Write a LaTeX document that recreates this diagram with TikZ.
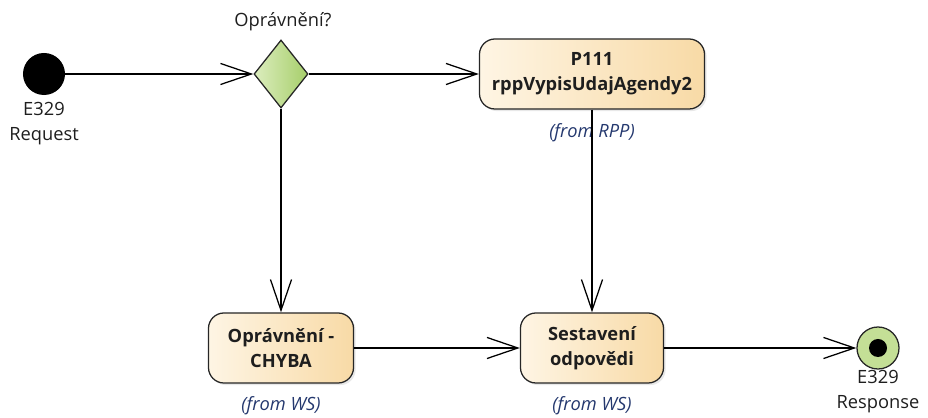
\documentclass[tikz,border=0pt]{standalone}
\usepackage{fontspec}
\setmainfont{Open Sans}
\usetikzlibrary{positioning}
\usetikzlibrary{arrows.meta, shapes.geometric, shadows}

\definecolor{actL}{HTML}{FEF5E4}
\definecolor{actR}{HTML}{F8DAA6}
\definecolor{decL}{HTML}{DCEDBE}
\definecolor{decR}{HTML}{A6CE6A}
\definecolor{endG}{HTML}{C4DF96}
\definecolor{fromC}{HTML}{24386E}
\definecolor{txtC}{HTML}{1E1E1E}

\tikzset{
  action/.style={rectangle, rounded corners=11pt, draw=black!85, line width=0.9pt,
    left color=actL, right color=actR, minimum height=1.75cm, align=center,
    font=\fontsize{13}{17.8}\selectfont\bfseries, text=txtC,
    drop shadow={opacity=0.18, shadow xshift=1.5pt, shadow yshift=-1.5pt}},
  decision/.style={diamond, draw=black!85, line width=0.9pt, left color=decL, right color=decR,
    minimum width=1.35cm, minimum height=1.7cm, inner sep=0pt, aspect=0.8},
  initial/.style={circle, fill=black, minimum size=1.05cm, inner sep=0pt},
  final/.style={circle, draw=black!85, line width=0.9pt, fill=endG, minimum size=1.05cm, inner sep=0pt},
  finaldot/.style={circle, fill=black, minimum size=0.45cm, inner sep=0pt},
  label/.style={font=\fontsize{13}{17.8}\selectfont, text=txtC, align=center},
  from/.style={font=\fontsize{13}{17.8}\selectfont\itshape, text=fromC},
  flow/.style={line width=0.9pt, -{Straight Barb[length=22pt,width=15pt,line width=0.9pt]}}
}

\begin{document}
\begin{tikzpicture}[x=0.025cm, y=-0.025cm]
\useasboundingbox (0,0) rectangle (928,418);

\node[initial] (start) at (44,74) {};
\node[label] (startlbl) at (44,124) {E329\\Request};

\node[decision] (check) at (281,74) {};
\node[label, anchor=base] (checklbl) at (283,27) {Oprávnění?};

\node[action, minimum width=5.625cm] (p111) at (592,74) {P111\\rppVypisUdajAgendy2};
\node[from] (p111from) at (592,133) {(from RPP)};

\node[action, minimum width=3.625cm] (chyba) at (281,348) {Oprávnění -\\CHYBA};
\node[from] (chybafrom) at (281,406) {(from WS)};

\node[action, minimum width=3.575cm] (sestav) at (592,348) {Sestavení\\odpovědi};
\node[from] (sestavfrom) at (592,406) {(from WS)};

\node[final] (end) at (878,348) {};
\node[finaldot] (enddot) at (end) {};
\node[label] (endlbl) at (878,392) {E329\\Response};

\draw[flow] (start) -- (check);
\draw[flow] (check) -- (p111);
\draw[flow] (check) -- (chyba);
\draw[flow] (p111) -- (sestav);
\draw[flow] (chyba) -- (sestav);
\draw[flow] (sestav) -- (end);

\end{tikzpicture}
\end{document}
